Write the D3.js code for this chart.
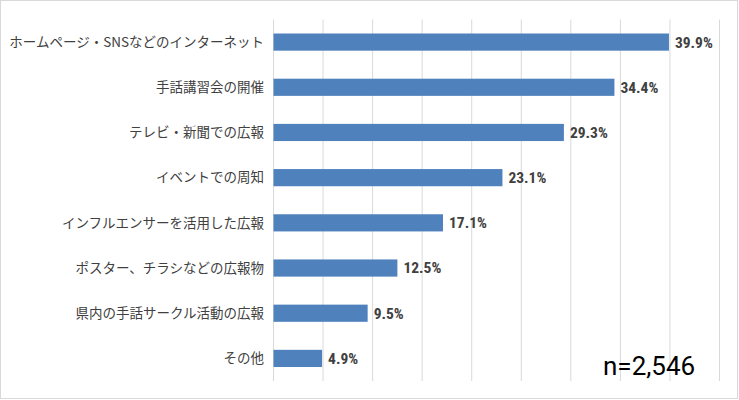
<!DOCTYPE html>
<html><head><meta charset="utf-8">
<script src="https://cdn.jsdelivr.net/npm/d3@7"></script>
<style>body{margin:0;background:#fff}</style></head>
<body><svg id="c" width="739" height="400"></svg>
<script>
const categories = ["ホームページ・SNSなどのインターネット","手話講習会の開催","テレビ・新聞での広報","イベントでの周知","インフルエンサーを活用した広報","ポスター、チラシなどの広報物","県内の手話サークル活動の広報","その他"];
const values = [39.9,34.4,29.3,23.1,17.1,12.5,9.5,4.9];
const ticks = [0,5,10,15,20,25,30,35,40,45];
const nLabel = "n=2,546";

const svg = d3.select("#c");
svg.append("rect").attr("x",0.5).attr("y",0.5).attr("width",737).attr("height",398).attr("fill","#fff").attr("stroke","#d9d9d9");
const x = d3.scaleLinear().domain([0,45]).range([273.5,719.5]);
const y = d3.scaleBand().domain(categories).range([19.5,381]).paddingInner(0.62).paddingOuter(0.31);
svg.append("g").selectAll("line").data(ticks).join("line")
  .attr("x1",d=>x(d)).attr("x2",d=>x(d)).attr("y1",19.5).attr("y2",381)
  .attr("stroke","#d9d9d9").attr("stroke-width",1);
svg.append("g").selectAll("rect").data(values).join("rect")
  .attr("x",x(0)).attr("y",(d,i)=>y(categories[i])).attr("width",d=>x(d)-x(0)).attr("height",y.bandwidth())
  .attr("fill","#4f81bd");
svg.append("g").selectAll("text").data(categories).join("text")
  .attr("x",264).attr("y",d=>y(d)+y.bandwidth()/2).attr("dy","0.35em").attr("text-anchor","end")
  .attr("font-family","'Noto Sans CJK JP',sans-serif").attr("font-size",13.5).attr("fill","#404040").text(d=>d);
svg.append("g").selectAll("text").data(values).join("text")
  .attr("x",d=>x(d)+6).attr("y",(d,i)=>y(categories[i])+y.bandwidth()/2).attr("dy","0.35em")
  .attr("font-family","'Liberation Sans Narrow','Roboto Condensed',Roboto,sans-serif").attr("font-weight","bold")
  .attr("font-size",15.5).attr("fill","#404040").text(d=>d.toFixed(1)+"%");
svg.append("text").attr("x",603).attr("y",375).attr("font-family","Roboto,sans-serif").attr("font-size",26).attr("fill","#000").text(nLabel);
</script></body></html>
